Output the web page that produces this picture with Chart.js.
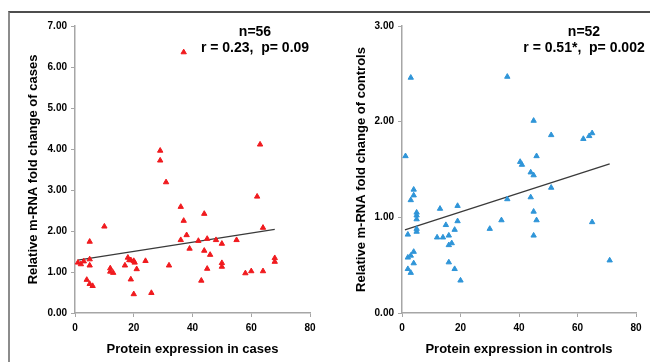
<!DOCTYPE html>
<html>
<head>
<meta charset="utf-8">
<script src="https://cdn.jsdelivr.net/npm/chart.js@4/dist/chart.umd.min.js"></script>
<style>
  html, body { margin: 0; padding: 0; background: #fff; }
  #wrap { position: relative; width: 650px; height: 362px; overflow: hidden; }
  #frame { position: absolute; left: 8px; top: 11px; width: 700px; height: 400px;
           border-top: 2px solid #4d4d4d; border-left: 2px solid #8c8c8c; }
  canvas { position: absolute; top: 0; }
  #casesChart { left: 0; }
  #controlsChart { left: 325px; }
</style>
</head>
<body>
<div id="wrap">
  <div id="frame"></div>
  <canvas id="casesChart" width="325" height="362"></canvas>
  <canvas id="controlsChart" width="325" height="362"></canvas>
</div>
<script>
// cases (left panel)
const casesProtein = [1, 2, 3, 5, 5, 5, 4, 5, 6, 10, 12, 12, 13, 17, 18, 18.5, 19, 19, 20, 20.3,
  20, 21, 24, 26, 31, 32, 36, 36, 37, 38, 39, 42, 43, 44, 44, 45, 45, 46, 48, 50,
  50, 50, 55, 58, 60, 62, 64, 64, 68, 68, 37, 29, 29, 63];
const casesMrna = [1.23, 1.19, 1.26, 1.74, 1.31, 1.16, 0.81, 0.71, 0.66, 2.11, 1.09, 1.01, 0.98, 1.16, 1.35, 1.29, 1.29, 0.82, 1.27, 1.23,
  0.46, 1.07, 1.27, 0.49, 3.19, 1.16, 2.59, 1.78, 2.25, 1.90, 1.57, 1.76, 0.79, 2.42, 1.52, 1.08, 1.81, 1.42, 1.78, 1.69,
  1.22, 1.13, 1.78, 0.97, 1.02, 2.84, 2.08, 1.02, 1.34, 1.25, 6.36, 3.96, 3.72, 4.11];
const casesTrendX = [1, 68];
const casesTrendY = [1.29, 2.04];

// controls (right panel)
const controlsProtein = [4, 4, 3, 5, 5, 5, 5, 5, 2, 4, 2, 3, 4, 2, 3, 13, 19, 15, 19, 18,
  12, 14, 16, 17, 16, 16, 18, 20, 30, 34, 36, 44, 45, 44, 45, 46, 45, 51, 65, 71,
  3, 36, 1.2, 45, 51, 62, 64, 65, 40.4, 41, 46];
const controlsMrna = [1.29, 1.23, 1.18, 1.05, 1.02, 0.98, 0.88, 0.85, 0.82, 0.64, 0.58, 0.60, 0.52, 0.46, 0.42, 1.09, 1.12, 0.92, 0.96, 0.87,
  0.79, 0.79, 0.81, 0.73, 0.71, 0.53, 0.46, 0.34, 0.88, 0.97, 1.19, 1.47, 1.44, 1.21, 1.06, 0.97, 0.81, 1.31, 0.95, 0.55,
  2.46, 2.47, 1.64, 2.01, 1.86, 1.82, 1.85, 1.88, 1.58, 1.55, 1.64];
const controlsTrendX = [1, 71];
const controlsTrendY = [0.87, 1.56];

const xTicks = [0, 20, 40, 60, 80];

const FONT = 'Arial, "Liberation Sans", sans-serif';

// text block in the upper right of each panel
const statsText = {
  id: 'statsText',
  afterDraw(chart, args, opts) {
    const { ctx, chartArea } = chart;
    ctx.save();
    ctx.fillStyle = '#000';
    ctx.font = 'bold 14px ' + FONT;
    ctx.textAlign = 'center';
    ctx.textBaseline = 'middle';
    const cx = chartArea.right + opts.dx;
    ctx.fillText(opts.lines[0], cx, chartArea.top + 6.5);
    ctx.fillText(opts.lines[1], cx, chartArea.top + 22);
    ctx.restore();
  }
};

function makeChart(canvasId, cfg) {
  const points = cfg.xs.map((x, i) => ({ x, y: cfg.ys[i] }));
  const trend  = cfg.trendX.map((x, i) => ({ x, y: cfg.trendY[i] }));

  return new Chart(document.getElementById(canvasId), {
    type: 'scatter',
    data: {
      datasets: [
        {
          data: points,
          pointStyle: 'triangle',
          pointRadius: 3.1,
          pointBackgroundColor: cfg.color,
          pointBorderColor: cfg.color,
          pointBorderWidth: 1
        },
        {
          data: trend,
          showLine: true,
          pointRadius: 0,
          borderColor: '#3a3a3a',
          borderWidth: 1.3
        }
      ]
    },
    options: {
      responsive: false,
      animation: false,
      layout: { padding: { left: 0, top: 26, right: cfg.padRight, bottom: 0 } },
      plugins: {
        legend: { display: false },
        tooltip: { enabled: false },
        statsText: { lines: cfg.stats, dx: cfg.statsDx }
      },
      scales: {
        x: {
          type: 'linear',
          min: 0, max: 80,
          afterBuildTicks: s => { s.ticks = xTicks.map(v => ({ value: v })); },
          afterFit: s => { s.height = 49; },
          border: { color: '#a6a6a6', width: 1.5 },
          grid: { drawOnChartArea: false, tickLength: 4, tickColor: '#a6a6a6' },
          ticks: { color: '#000', font: { family: FONT, size: 10, weight: 'bold' }, padding: 5 },
          title: {
            display: true, text: cfg.xTitle, color: '#000',
            font: { family: FONT, size: 13, weight: 'bold' },
            padding: { top: 0, bottom: 5 }
          }
        },
        y: {
          min: 0, max: cfg.yMax,
          ticks: {
            stepSize: 1, color: '#000', padding: 4,
            font: { family: FONT, size: 10, weight: 'bold' },
            callback: v => v.toFixed(2)
          },
          afterFit: s => { s.width = cfg.yWidth; },
          border: { color: '#a6a6a6', width: 1.5 },
          grid: { drawOnChartArea: false, tickLength: 4, tickColor: '#a6a6a6' },
          title: {
            display: true, text: cfg.yTitle, color: '#000',
            font: { family: FONT, size: 13, weight: 'bold' },
            padding: { top: cfg.yTitlePad, bottom: 0 }
          }
        }
      }
    },
    plugins: [statsText]
  });
}

makeChart('casesChart', {
  xs: casesProtein, ys: casesMrna,
  trendX: casesTrendX, trendY: casesTrendY,
  color: '#f01a1e',
  yMax: 7, yWidth: 75, yTitlePad: 26, padRight: 15,
  xTitle: 'Protein expression in cases',
  yTitle: 'Relative m-RNA fold change of cases',
  stats: ['n=56', 'r = 0.23,  p= 0.09'], statsDx: -55
});

makeChart('controlsChart', {
  xs: controlsProtein, ys: controlsMrna,
  trendX: controlsTrendX, trendY: controlsTrendY,
  color: '#2f95d8',
  yMax: 3, yWidth: 77, yTitlePad: 29, padRight: 14,
  xTitle: 'Protein expression in controls',
  yTitle: 'Relative m-RNA fold change of controls',
  stats: ['n=52', 'r = 0.51*,  p= 0.002'], statsDx: -52
});
</script>
</body>
</html>
